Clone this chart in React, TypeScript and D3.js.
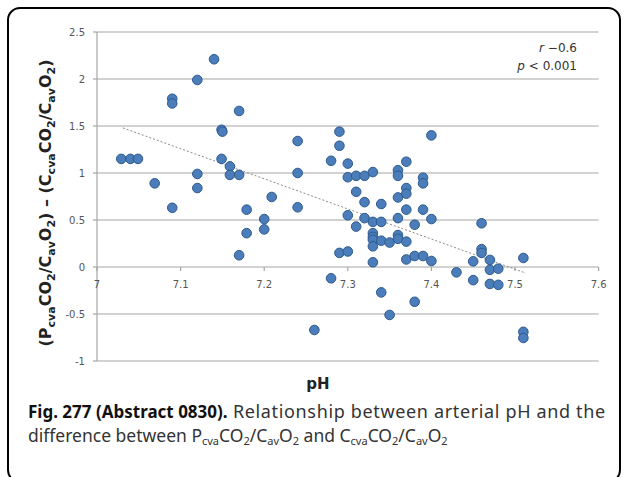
import React from "react";
import * as d3 from "d3";

const phValues: number[] = [
  7.029, 7.04, 7.049, 7.069, 7.09, 7.09, 7.09, 7.12, 7.12, 7.12,
  7.14, 7.149, 7.15, 7.149, 7.159, 7.159, 7.17, 7.17, 7.17, 7.179,
  7.179, 7.2, 7.2, 7.209, 7.24, 7.24, 7.24, 7.26, 7.28, 7.28,
  7.29, 7.29, 7.29, 7.3, 7.3, 7.3, 7.3, 7.31, 7.31, 7.31,
  7.32, 7.32, 7.32, 7.33, 7.33, 7.33, 7.33, 7.33, 7.33, 7.33,
  7.34, 7.34, 7.34, 7.34, 7.35, 7.35, 7.36, 7.36, 7.36, 7.36,
  7.36, 7.36, 7.37, 7.37, 7.37, 7.37, 7.37, 7.37, 7.38, 7.38,
  7.38, 7.39, 7.39, 7.39, 7.39, 7.4, 7.4, 7.4, 7.43, 7.45,
  7.45, 7.46, 7.46, 7.46, 7.47, 7.47, 7.47, 7.48, 7.48, 7.51,
  7.51, 7.51,
];
const diffValues: number[] = [
  1.15, 1.15, 1.15, 0.89, 1.79, 1.74, 0.63, 1.99, 0.99, 0.84,
  2.21, 1.46, 1.44, 1.15, 1.07, 0.98, 0.98, 1.66, 0.125, 0.61,
  0.36, 0.51, 0.4, 0.745, 1.34, 1.0, 0.635, -0.67, 1.13, -0.12,
  1.44, 1.29, 0.15, 1.1, 0.955, 0.55, 0.165, 0.97, 0.8, 0.43,
  0.97, 0.69, 0.52, 1.01, 0.48, 0.36, 0.32, 0.29, 0.22, 0.05,
  0.67, 0.48, 0.28, -0.27, 0.26, -0.51, 1.03, 0.97, 0.74, 0.52,
  0.34, 0.3, 1.12, 0.84, 0.78, 0.61, 0.27, 0.08, 0.45, 0.117,
  -0.37, 0.95, 0.89, 0.61, 0.117, 1.4, 0.51, 0.064, -0.057, 0.06,
  -0.14, 0.465, 0.19, 0.15, 0.075, -0.03, -0.18, -0.018, -0.19, 0.096,
  -0.69, -0.755,
];
const trendX: number[] = [7.031, 7.513];
const trendY: number[] = [1.48, -0.065];
const xTicks: number[] = [7, 7.1, 7.2, 7.3, 7.4, 7.5, 7.6];
const xTickLabels: string[] = ["7", "7.1", "7.2", "7.3", "7.4", "7.5", "7.6"];
const yTicks: number[] = [2.5, 2, 1.5, 1, 0.5, 0, -0.5, -1];
const yTickLabels: string[] = ["2.5", "2", "1.5", "1", "0.5", "0", "-0.5", "-1"];

export default function App() {
  const x = d3.scaleLinear().domain([7, 7.6]).range([97, 598.6]);
  const y = d3.scaleLinear().domain([-1, 2.5]).range([361, 32]);
  const line = d3
    .line<number>()
    .x((_, i) => x(trendX[i]))
    .y((d) => y(d));
  const axisFont = "'DejaVu Sans', sans-serif";
  const capFont = "'Noto Sans', 'Open Sans', sans-serif";
  return (
    <svg
      width={627}
      height={477}
      style={{ position: "absolute", left: 0, top: 0, background: "#fff" }}
    >
      <rect x={8} y={8} width={612} height={474} rx={12} ry={12} fill="#fff" stroke="#000" strokeWidth={2} />
      {/* gridlines */}
      {yTicks.map((t) => (
        <line key={"g" + t} x1={x(7)} x2={x(7.6)} y1={y(t)} y2={y(t)} stroke="#a6a6a6" strokeWidth={1.2} />
      ))}
      {/* y axis */}
      <line x1={x(7)} x2={x(7)} y1={y(2.5)} y2={y(-1)} stroke="#a6a6a6" strokeWidth={1.2} />
      {yTicks.map((t, i) => (
        <g key={"yt" + t}>
          <line x1={x(7) - 4} x2={x(7)} y1={y(t)} y2={y(t)} stroke="#a6a6a6" strokeWidth={1.2} />
          <text x={85} y={y(t) + 3.5} textAnchor="end" fontFamily={axisFont} fontSize={10} fill="#555">
            {yTickLabels[i]}
          </text>
        </g>
      ))}
      {/* x ticks */}
      {xTicks.map((t, i) => (
        <g key={"xt" + t}>
          <line x1={x(t)} x2={x(t)} y1={y(0)} y2={y(0) + 4} stroke="#a6a6a6" strokeWidth={1.2} />
          <text x={x(t)} y={y(0) + 21} textAnchor="middle" fontFamily={axisFont} fontSize={10} fill="#555">
            {xTickLabels[i]}
          </text>
        </g>
      ))}
      {/* trend line */}
      <path d={line(trendY) || ""} fill="none" stroke="#8c8c8c" strokeWidth={1} strokeDasharray="2,2" />
      {/* points */}
      {phValues.map((p, i) => (
        <circle key={"p" + i} cx={x(p)} cy={y(diffValues[i])} r={4.8} fill="#4a7db9" stroke="#2d5a8e" strokeWidth={1} />
      ))}
      {/* annotation */}
      <text x={577} y={52} textAnchor="end" fontFamily={axisFont} fontSize={12} fill="#333">
        <tspan fontStyle="italic">r</tspan> −0.6
      </text>
      <text x={577} y={70} textAnchor="end" fontFamily={axisFont} fontSize={12} fill="#333">
        <tspan fontStyle="italic">p</tspan> &lt; 0.001
      </text>
      {/* y title */}
      <text
        transform={`translate(51, 203) rotate(-90)`}
        textAnchor="middle"
        fontFamily={axisFont}
        fontWeight="bold"
        fontSize={16}
        fill="#222"
      >
        (P<tspan fontSize={11} dy={4}>cva</tspan>
        <tspan dy={-4}>CO</tspan>
        <tspan fontSize={11} dy={4}>2</tspan>
        <tspan dy={-4}>/C</tspan>
        <tspan fontSize={11} dy={4}>av</tspan>
        <tspan dy={-4}>O</tspan>
        <tspan fontSize={11} dy={4}>2</tspan>
        <tspan dy={-4}>) – (C</tspan>
        <tspan fontSize={11} dy={4}>cva</tspan>
        <tspan dy={-4}>CO</tspan>
        <tspan fontSize={11} dy={4}>2</tspan>
        <tspan dy={-4}>/C</tspan>
        <tspan fontSize={11} dy={4}>av</tspan>
        <tspan dy={-4}>O</tspan>
        <tspan fontSize={11} dy={4}>2</tspan>
        <tspan dy={-4}>)</tspan>
      </text>
      {/* x title */}
      <text x={318} y={389} textAnchor="middle" fontFamily={axisFont} fontWeight="bold" fontSize={15} fill="#222">
        pH
      </text>
      {/* caption */}
      <text x={28} y={418} fontFamily={capFont} fontSize={17} fill="#333">
        <tspan fontWeight="bold" fill="#111">Fig. 277 (Abstract 0830).</tspan>
        <tspan fontSize={18} letterSpacing={0.65}> Relationship between arterial pH and the</tspan>
      </text>
      <text x={28} y={442} fontFamily={capFont} fontSize={17.5} fill="#333">
        difference between P<tspan fontSize={11} dy={3}>cva</tspan>
        <tspan dy={-3}>CO</tspan>
        <tspan fontSize={11} dy={3}>2</tspan>
        <tspan dy={-3}>/C</tspan>
        <tspan fontSize={11} dy={3}>av</tspan>
        <tspan dy={-3}>O</tspan>
        <tspan fontSize={11} dy={3}>2</tspan>
        <tspan dy={-3}> and C</tspan>
        <tspan fontSize={11} dy={3}>cva</tspan>
        <tspan dy={-3}>CO</tspan>
        <tspan fontSize={11} dy={3}>2</tspan>
        <tspan dy={-3}>/C</tspan>
        <tspan fontSize={11} dy={3}>av</tspan>
        <tspan dy={-3}>O</tspan>
        <tspan fontSize={11} dy={3}>2</tspan>
      </text>
    </svg>
  );
}
